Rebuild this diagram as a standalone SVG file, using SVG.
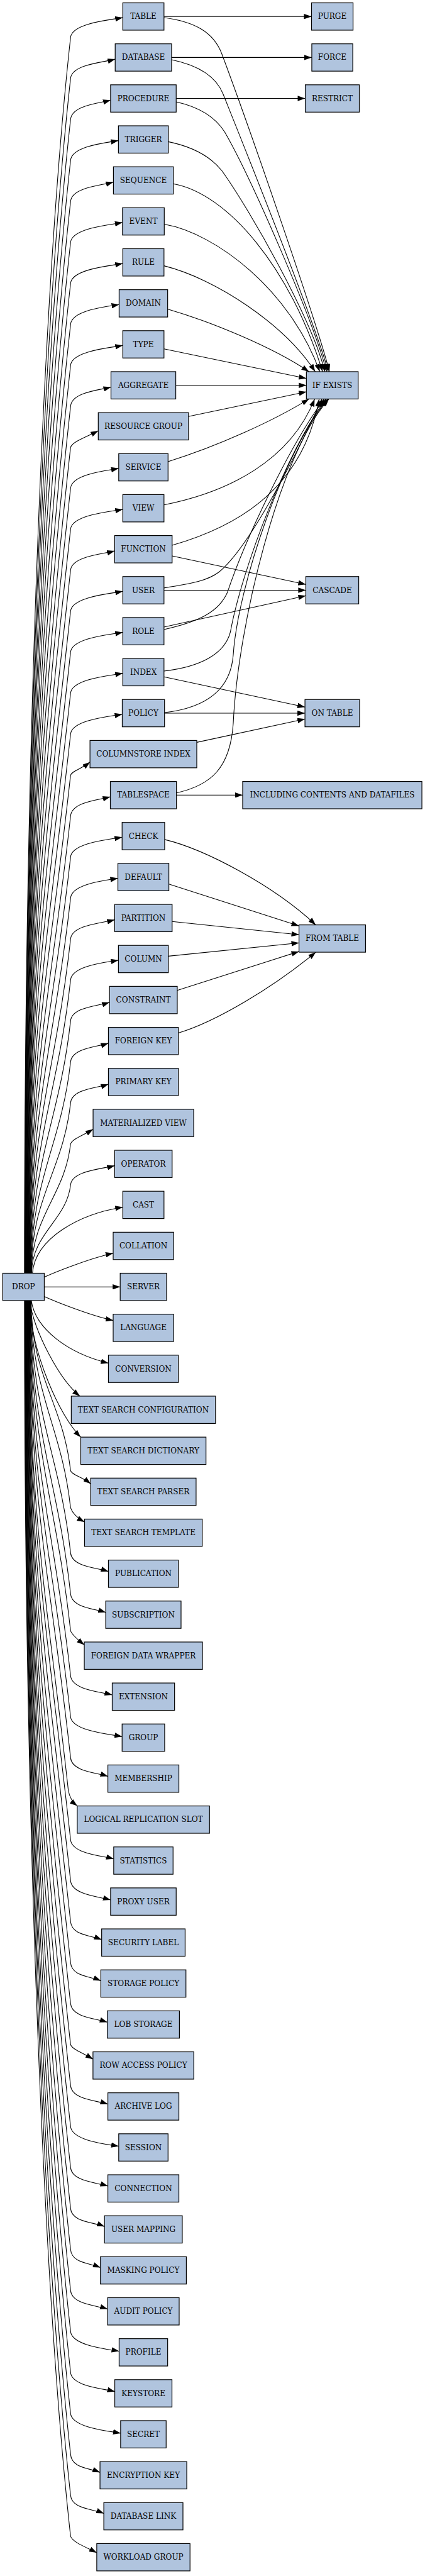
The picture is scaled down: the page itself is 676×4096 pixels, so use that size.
<svg xmlns="http://www.w3.org/2000/svg" width="676" height="4096" viewBox="0 0 676 4096">
<defs>
<style>
.n rect{fill:#b0c4de;stroke:#000;stroke-width:1.33}
.n text{font-family:"DejaVu Serif",serif;font-size:13.33px;text-anchor:middle;fill:#000}
.e path{fill:none;stroke:#000;stroke-width:1.2;marker-end:url(#ah)}
</style>
<marker id="ah" markerUnits="userSpaceOnUse" viewBox="0 0 13.3 9.3" markerWidth="13.3" markerHeight="9.3" refX="13.3" refY="4.65" orient="auto"><path d="M0,0L13.3,4.65L0,9.3z" fill="#000"/></marker>
</defs>
<rect width="676" height="4096" fill="#fff"/>
<g transform="scale(0.905)">
<g id="connectors" class="e">
<path d="M43,2237C43,1260 80,466 124,66C126,40.7 194.1,34.8 215.8,31"/>
<path d="M43.5,2237C43.5,1292 80,538 124,138C126,113 181.2,109.7 202.5,104"/>
<path d="M43.9,2237C43.9,1325 80,610 124,210C126,185 173.1,181.7 194.4,176"/>
<path d="M44.4,2237C44.4,1357 80,682 124,282C126,256.7 186.5,250.8 208.2,247"/>
<path d="M44.8,2237C44.8,1390 80,754 124,354C126,329 178.1,325.7 199.4,320"/>
<path d="M45.3,2237C45.3,1422 80,826 124,426C126,400.7 193.6,394.8 215.3,391"/>
<path d="M45.7,2237C45.7,1454 80,898 124,498C126,472.7 194.1,466.8 215.8,463"/>
<path d="M46.2,2237C46.2,1487 80,970 124,570C126,544.7 187.7,538.8 209.4,535"/>
<path d="M46.6,2237C46.6,1519 80,1042 124,642C126,616.7 194.1,610.8 215.8,607"/>
<path d="M47.1,2237C47.1,1552 80,1114 124,714C126,689 173.8,685.7 195.1,680"/>
<path d="M47.5,2237C47.5,1584 80,1186 124,786C127,775.9 153.1,767 172.7,757"/>
<path d="M48,2237C48,1616 80,1258 124,858C126,832.7 187,826.8 208.7,823"/>
<path d="M48.4,2237C48.4,1649 80,1330 124,930C126,904.7 194.1,898.8 215.8,895"/>
<path d="M48.9,2237C48.9,1681 80,1402 124,1002C126,977 180.2,973.7 201.5,968"/>
<path d="M49.3,2237C49.3,1714 80,1474 124,1074C126,1048.7 194.1,1042.8 215.8,1039"/>
<path d="M49.8,2237C49.8,1746 80,1546 124,1146C126,1120.7 194.1,1114.8 215.8,1111"/>
<path d="M50.2,2237C50.2,1778 80,1618 124,1218C126,1192.7 194.1,1186.8 215.8,1183"/>
<path d="M50.7,2237C50.7,1811 82.3,1669 124,1290C126,1264.7 193.2,1258.8 214.9,1255"/>
<path d="M51.1,2237C51.1,1843 85.5,1712 124,1362C127,1354 140.9,1352.5 158.2,1339"/>
<path d="M51.6,2237C51.6,1876 88.7,1755 124,1434C126,1409 172.6,1405.7 193.9,1400"/>
<path d="M52,2237C52,1908 91.8,1798 124,1506C126,1480.7 192.9,1474.8 214.6,1471"/>
<path d="M52.5,2237C52.5,1940 95,1842 124,1578C126,1552.7 185.5,1546.8 207.2,1543"/>
<path d="M52.9,2237C52.9,1973 98.2,1885 124,1650C126,1625 180.2,1621.7 201.5,1616"/>
<path d="M53.4,2237C53.4,2005 101.3,1928 124,1722C126,1696.7 186.5,1690.8 208.2,1687"/>
<path d="M53.8,2237C53.8,2038 104.5,1971 124,1794C126,1769.3 171.6,1767.8 192.5,1761"/>
<path d="M54.3,2237C54.3,2070 107.7,2014 124,1866C126,1841.3 169.7,1839.8 190.6,1833"/>
<path d="M54.7,2237C54.7,2102 110.8,2058 124,1938C126,1913.3 169.7,1911.8 190.6,1905"/>
<path d="M55.2,2237C55.2,2135 114,2101 124,2010C127,2001 144.9,1995.7 163.6,1984"/>
<path d="M55.6,2237C55.6,2167 117.2,2144 124,2082C126,2057 180.2,2053.7 201.5,2048"/>
<path d="M57,2237C62,2175 140,2133 215.8,2121"/>
<path d="M77.7,2244C95,2236 160,2210 198.9,2202"/>
<path d="M77.7,2261L211.3,2261"/>
<path d="M77.7,2278C95,2286 160,2312 198.9,2320"/>
<path d="M55,2285C62,2335 120,2378 190.6,2395"/>
<path d="M52,2285C60,2340 105,2425 140.5,2453"/>
<path d="M51,2285C56,2380 105,2488 141.9,2525"/>
<path d="M54.7,2285C54.7,2420 110.8,2464 124,2584C127,2592 142.1,2593.5 159.4,2607"/>
<path d="M54.3,2285C54.3,2449 108,2503 124,2649C126,2655 132,2665 148.6,2674"/>
<path d="M53.8,2285C53.8,2484 104.5,2551 124,2728C126,2752.7 169.7,2754.2 190.6,2761"/>
<path d="M53.4,2285C53.4,2517 101.3,2594 124,2800C126,2824.7 164.9,2826.2 185.8,2833"/>
<path d="M52.9,2285C52.9,2546 98.5,2633 124,2865C126,2871 133,2878 148.2,2890"/>
<path d="M52.5,2285C52.5,2582 95,2680 124,2944C126,2969 175.9,2972.3 197.2,2978"/>
<path d="M52,2285C52,2614 91.8,2724 124,3016C126,3041.3 192.9,3047.2 214.6,3051"/>
<path d="M51.6,2285C51.6,2646 88.7,2767 124,3088C126,3112.7 168.7,3114.2 189.6,3121"/>
<path d="M51.1,2285C51.1,2672 82.2,2801 120,3145C122,3158 127,3166 135.8,3173"/>
<path d="M50.7,2285C50.7,2711 82.3,2853 124,3232C126,3257 178.6,3260.3 199.9,3266"/>
<path d="M50.2,2285C50.2,2744 80,2904 124,3304C126,3329 173.1,3332.3 194.4,3338"/>
<path d="M49.8,2285C49.8,2776 80,2976 124,3376C126,3400.4 158.3,3399.8 178.7,3408"/>
<path d="M49.3,2285C49.3,2808 80,3048 124,3448C126,3472.4 156.8,3471.8 177.2,3480"/>
<path d="M48.9,2285C48.9,2841 80,3120 124,3520C126,3544.7 167.8,3546.2 188.7,3553"/>
<path d="M48.4,2285C48.4,2873 80,3192 124,3592C127,3601 144.7,3606.3 163.4,3618"/>
<path d="M48,2285C48,2906 80,3264 124,3664C126,3688.7 168.7,3690.2 189.6,3697"/>
<path d="M47.5,2285C47.5,2938 80,3336 124,3736C126,3761.3 187,3767.2 208.7,3771"/>
<path d="M47.1,2285C47.1,2970 80,3408 124,3808C126,3832.7 168.7,3834.2 189.6,3841"/>
<path d="M46.6,2285C46.6,3003 80,3480 124,3880C126,3904.4 163.3,3903.8 183.7,3912"/>
<path d="M46.2,2285C46.2,3035 80,3552 124,3952C126,3976.4 156.1,3975.8 176.5,3984"/>
<path d="M45.7,2285C45.7,3068 80,3624 124,4024C126,4048.7 168.2,4050.2 189.1,4057"/>
<path d="M45.3,2285C45.3,3100 80,3696 124,4096C126,4121.3 187.7,4127.2 209.4,4131"/>
<path d="M44.8,2285C44.8,3132 80,3768 124,4168C126,4193 180.5,4196.3 201.8,4202"/>
<path d="M44.4,2285C44.4,3165 80,3840 124,4240C126,4265.3 190.3,4271.2 212,4275"/>
<path d="M43.9,2285C43.9,3197 80,3912 124,4312C126,4336.4 155.4,4335.8 175.8,4344"/>
<path d="M43.5,2285C43.5,3230 80,3984 124,4384C126,4408.4 162.1,4407.8 182.5,4416"/>
<path d="M43,2285C43,3262 80,4056 124,4456C127,4466.2 150.5,4475 170.1,4485"/>
<path d="M288.2,29L547.5,29"/>
<path d="M301.6,101L548,101"/>
<path d="M309.7,173L536.5,173"/>
<path d="M288.2,31C340,38 375,55 390,95C435,215 555,560 579,653"/>
<path d="M301.6,105C350,115 380,135 392,165C430,260 555,570 577,653"/>
<path d="M309.7,179C350,188 378,205 395,232C440,310 550,560 574,653"/>
<path d="M295.9,249C340,258 370,275 390,300C440,370 548,560 571,653"/>
<path d="M304.4,323C400,340 510,470 567,653"/>
<path d="M288.7,394C380,410 510,510 562,653"/>
<path d="M288.2,467C380,490 500,570 554,653"/>
<path d="M294.6,543C370,565 480,610 543,653"/>
<path d="M288.2,613L538.5,665"/>
<path d="M309,677L538.5,677"/>
<path d="M331,731.7L538.5,688.3"/>
<path d="M295.4,811C380,785 480,740 543,701"/>
<path d="M288.2,887C400,865 510,810 553,701"/>
<path d="M302.5,958C400,930 530,870 561,701"/>
<path d="M288.2,1033C340,1025 365,1020 385,1005C440,960 520,800 566,701"/>
<path d="M288.2,1106C350,1092 385,1075 400,1040C430,950 510,780 570,701"/>
<path d="M288.2,1179C350,1172 395,1150 405,1110C425,1000 505,790 573,701"/>
<path d="M289.2,1252C350,1245 405,1220 410,1150C418,1030 500,790 576,701"/>
<path d="M310.1,1393C370,1380 405,1350 410,1270C418,1100 490,800 578,701"/>
<path d="M302.5,976.7L537.5,1026.7"/>
<path d="M288.2,1037L537.5,1037"/>
<path d="M288.2,1101.7L537.5,1046.7"/>
<path d="M288.2,1189.3L536,1242.3"/>
<path d="M289.2,1253L536,1253"/>
<path d="M345.9,1304.3L536,1263.3"/>
<path d="M310.1,1397L426.5,1397"/>
<path d="M289.2,1475C360,1492 480,1555 555,1625"/>
<path d="M296.8,1553.3L525.5,1626.7"/>
<path d="M302.5,1619L525.5,1642.3"/>
<path d="M295.9,1680L525.5,1656.7"/>
<path d="M311.6,1740L525.5,1671.7"/>
<path d="M313.5,1815C380,1795 480,1735 555,1673"/>
</g>
<g id="drop" class="n"><rect x="4.8" y="2237" width="73" height="48"/><text x="41.3" y="2265.5">DROP</text></g>
<g id="table" class="n"><rect x="215.8" y="5" width="72.4" height="48"/><text x="252" y="33.5">TABLE</text></g>
<g id="database" class="n"><rect x="202.45" y="77" width="99.1" height="48"/><text x="252" y="105.5">DATABASE</text></g>
<g id="procedure" class="n"><rect x="194.35" y="149" width="115.3" height="48"/><text x="252" y="177.5">PROCEDURE</text></g>
<g id="trigger" class="n"><rect x="208.15" y="221" width="87.7" height="48"/><text x="252" y="249.5">TRIGGER</text></g>
<g id="sequence" class="n"><rect x="199.35" y="293" width="105.3" height="48"/><text x="252" y="321.5">SEQUENCE</text></g>
<g id="event" class="n"><rect x="215.3" y="365" width="73.4" height="48"/><text x="252" y="393.5">EVENT</text></g>
<g id="rule" class="n"><rect x="215.8" y="437" width="72.4" height="48"/><text x="252" y="465.5">RULE</text></g>
<g id="domain" class="n"><rect x="209.35" y="509" width="85.3" height="48"/><text x="252" y="537.5">DOMAIN</text></g>
<g id="type" class="n"><rect x="215.8" y="581" width="72.4" height="48"/><text x="252" y="609.5">TYPE</text></g>
<g id="aggregate" class="n"><rect x="195.05" y="653" width="113.9" height="48"/><text x="252" y="681.5">AGGREGATE</text></g>
<g id="resource-group" class="n"><rect x="172.7" y="725" width="158.6" height="48"/><text x="252" y="753.5">RESOURCE GROUP</text></g>
<g id="service" class="n"><rect x="208.65" y="797" width="86.7" height="48"/><text x="252" y="825.5">SERVICE</text></g>
<g id="view" class="n"><rect x="215.8" y="869" width="72.4" height="48"/><text x="252" y="897.5">VIEW</text></g>
<g id="function" class="n"><rect x="201.5" y="941" width="101" height="48"/><text x="252" y="969.5">FUNCTION</text></g>
<g id="user" class="n"><rect x="215.8" y="1013" width="72.4" height="48"/><text x="252" y="1041.5">USER</text></g>
<g id="role" class="n"><rect x="215.8" y="1085" width="72.4" height="48"/><text x="252" y="1113.5">ROLE</text></g>
<g id="index" class="n"><rect x="215.8" y="1157" width="72.4" height="48"/><text x="252" y="1185.5">INDEX</text></g>
<g id="policy" class="n"><rect x="214.85" y="1229" width="74.3" height="48"/><text x="252" y="1257.5">POLICY</text></g>
<g id="columnstore-index" class="n"><rect x="158.15" y="1301" width="187.7" height="48"/><text x="252" y="1329.5">COLUMNSTORE INDEX</text></g>
<g id="tablespace" class="n"><rect x="193.9" y="1373" width="116.2" height="48"/><text x="252" y="1401.5">TABLESPACE</text></g>
<g id="check" class="n"><rect x="214.6" y="1445" width="74.8" height="48"/><text x="252" y="1473.5">CHECK</text></g>
<g id="default" class="n"><rect x="207.2" y="1517" width="89.6" height="48"/><text x="252" y="1545.5">DEFAULT</text></g>
<g id="partition" class="n"><rect x="201.5" y="1589" width="101" height="48"/><text x="252" y="1617.5">PARTITION</text></g>
<g id="column" class="n"><rect x="208.15" y="1661" width="87.7" height="48"/><text x="252" y="1689.5">COLUMN</text></g>
<g id="constraint" class="n"><rect x="192.45" y="1733" width="119.1" height="48"/><text x="252" y="1761.5">CONSTRAINT</text></g>
<g id="foreign-key" class="n"><rect x="190.55" y="1805" width="122.9" height="48"/><text x="252" y="1833.5">FOREIGN KEY</text></g>
<g id="primary-key" class="n"><rect x="190.55" y="1877" width="122.9" height="48"/><text x="252" y="1905.5">PRIMARY KEY</text></g>
<g id="materialized-view" class="n"><rect x="163.6" y="1949" width="176.8" height="48"/><text x="252" y="1977.5">MATERIALIZED VIEW</text></g>
<g id="operator" class="n"><rect x="201.5" y="2021" width="101" height="48"/><text x="252" y="2049.5">OPERATOR</text></g>
<g id="cast" class="n"><rect x="215.8" y="2093" width="72.4" height="48"/><text x="252" y="2121.5">CAST</text></g>
<g id="collation" class="n"><rect x="198.9" y="2165" width="106.2" height="48"/><text x="252" y="2193.5">COLLATION</text></g>
<g id="server" class="n"><rect x="211.25" y="2237" width="81.5" height="48"/><text x="252" y="2265.5">SERVER</text></g>
<g id="language" class="n"><rect x="198.9" y="2309" width="106.2" height="48"/><text x="252" y="2337.5">LANGUAGE</text></g>
<g id="conversion" class="n"><rect x="190.55" y="2381" width="122.9" height="48"/><text x="252" y="2409.5">CONVERSION</text></g>
<g id="ts-configuration" class="n"><rect x="125.25" y="2453" width="253.5" height="48"/><text x="252" y="2481.5">TEXT SEARCH CONFIGURATION</text></g>
<g id="ts-dictionary" class="n"><rect x="141.95" y="2525" width="220.1" height="48"/><text x="252" y="2553.5">TEXT SEARCH DICTIONARY</text></g>
<g id="ts-parser" class="n"><rect x="159.35" y="2597" width="185.3" height="48"/><text x="252" y="2625.5">TEXT SEARCH PARSER</text></g>
<g id="ts-template" class="n"><rect x="148.6" y="2669" width="206.8" height="48"/><text x="252" y="2697.5">TEXT SEARCH TEMPLATE</text></g>
<g id="publication" class="n"><rect x="190.55" y="2741" width="122.9" height="48"/><text x="252" y="2769.5">PUBLICATION</text></g>
<g id="subscription" class="n"><rect x="185.8" y="2813" width="132.4" height="48"/><text x="252" y="2841.5">SUBSCRIPTION</text></g>
<g id="fdw" class="n"><rect x="148.15" y="2885" width="207.7" height="48"/><text x="252" y="2913.5">FOREIGN DATA WRAPPER</text></g>
<g id="extension" class="n"><rect x="197.2" y="2957" width="109.6" height="48"/><text x="252" y="2985.5">EXTENSION</text></g>
<g id="group" class="n"><rect x="214.6" y="3029" width="74.8" height="48"/><text x="252" y="3057.5">GROUP</text></g>
<g id="membership" class="n"><rect x="189.6" y="3101" width="124.8" height="48"/><text x="252" y="3129.5">MEMBERSHIP</text></g>
<g id="logical-replication-slot" class="n"><rect x="135.75" y="3173" width="232.5" height="48"/><text x="252" y="3201.5">LOGICAL REPLICATION SLOT</text></g>
<g id="statistics" class="n"><rect x="199.85" y="3245" width="104.3" height="48"/><text x="252" y="3273.5">STATISTICS</text></g>
<g id="proxy-user" class="n"><rect x="194.35" y="3317" width="115.3" height="48"/><text x="252" y="3345.5">PROXY USER</text></g>
<g id="security-label" class="n"><rect x="178.65" y="3389" width="146.7" height="48"/><text x="252" y="3417.5">SECURITY LABEL</text></g>
<g id="storage-policy" class="n"><rect x="177.2" y="3461" width="149.6" height="48"/><text x="252" y="3489.5">STORAGE POLICY</text></g>
<g id="lob-storage" class="n"><rect x="188.65" y="3533" width="126.7" height="48"/><text x="252" y="3561.5">LOB STORAGE</text></g>
<g id="row-access-policy" class="n"><rect x="163.4" y="3605" width="177.2" height="48"/><text x="252" y="3633.5">ROW ACCESS POLICY</text></g>
<g id="archive-log" class="n"><rect x="189.6" y="3677" width="124.8" height="48"/><text x="252" y="3705.5">ARCHIVE LOG</text></g>
<g id="session" class="n"><rect x="208.65" y="3749" width="86.7" height="48"/><text x="252" y="3777.5">SESSION</text></g>
<g id="connection" class="n"><rect x="189.6" y="3821" width="124.8" height="48"/><text x="252" y="3849.5">CONNECTION</text></g>
<g id="user-mapping" class="n"><rect x="183.65" y="3893" width="136.7" height="48"/><text x="252" y="3921.5">USER MAPPING</text></g>
<g id="masking-policy" class="n"><rect x="176.5" y="3965" width="151" height="48"/><text x="252" y="3993.5">MASKING POLICY</text></g>
<g id="audit-policy" class="n"><rect x="189.1" y="4037" width="125.8" height="48"/><text x="252" y="4065.5">AUDIT POLICY</text></g>
<g id="profile" class="n"><rect x="209.35" y="4109" width="85.3" height="48"/><text x="252" y="4137.5">PROFILE</text></g>
<g id="keystore" class="n"><rect x="201.75" y="4181" width="100.5" height="48"/><text x="252" y="4209.5">KEYSTORE</text></g>
<g id="secret" class="n"><rect x="212" y="4253" width="80" height="48"/><text x="252" y="4281.5">SECRET</text></g>
<g id="encryption-key" class="n"><rect x="175.75" y="4325" width="152.5" height="48"/><text x="252" y="4353.5">ENCRYPTION KEY</text></g>
<g id="database-link" class="n"><rect x="182.45" y="4397" width="139.1" height="48"/><text x="252" y="4425.5">DATABASE LINK</text></g>
<g id="workload-group" class="n"><rect x="170.05" y="4469" width="163.9" height="48"/><text x="252" y="4497.5">WORKLOAD GROUP</text></g>
<g id="purge" class="n"><rect x="547.5" y="5" width="73" height="48"/><text x="584" y="33.5">PURGE</text></g>
<g id="force" class="n"><rect x="548" y="77" width="72" height="48"/><text x="584" y="105.5">FORCE</text></g>
<g id="restrict" class="n"><rect x="536.5" y="149" width="95" height="48"/><text x="584" y="177.5">RESTRICT</text></g>
<g id="if-exists" class="n"><rect x="538.5" y="653" width="91" height="48"/><text x="584" y="681.5">IF EXISTS</text></g>
<g id="cascade" class="n"><rect x="537.5" y="1013" width="93" height="48"/><text x="584" y="1041.5">CASCADE</text></g>
<g id="on-table" class="n"><rect x="536" y="1229" width="96" height="48"/><text x="584" y="1257.5">ON TABLE</text></g>
<g id="including" class="n"><rect x="426.5" y="1373" width="315" height="48"/><text x="584" y="1401.5">INCLUDING CONTENTS AND DATAFILES</text></g>
<g id="from-table" class="n"><rect x="525.5" y="1625" width="117" height="48"/><text x="584" y="1653.5">FROM TABLE</text></g>
</g>
</svg>
